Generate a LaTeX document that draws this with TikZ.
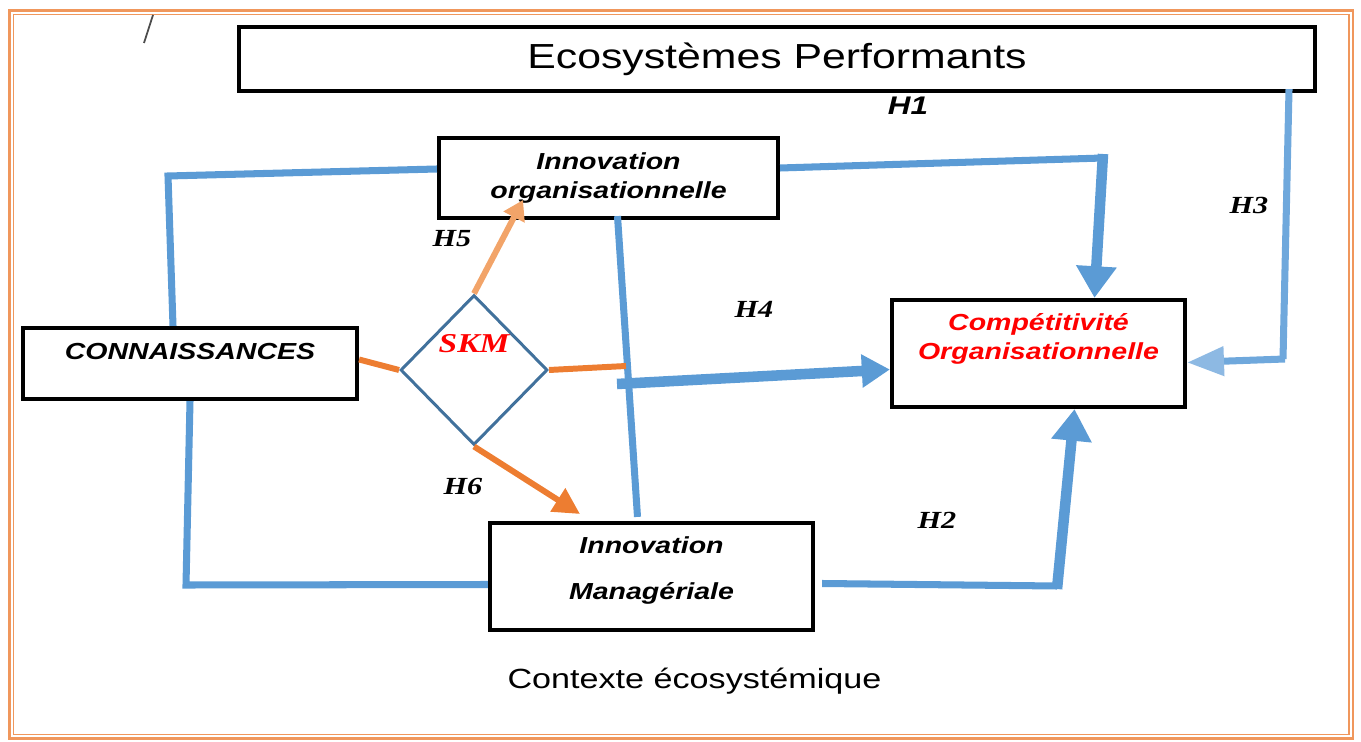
\documentclass[tikz,border=0pt]{standalone}
\usepackage{fontspec}
\setmainfont{Liberation Sans}[FakeStretch=1.23]
\newfontfamily\serifH{Liberation Serif}[FakeStretch=1.23]
\usetikzlibrary{arrows.meta,shapes.geometric,calc}

\definecolor{bleu}{HTML}{5B9BD5}
\definecolor{bleuclair}{HTML}{6FA8DC}
\definecolor{pointeclair}{HTML}{8DB9E3}
\definecolor{orangelien}{HTML}{ED7D31}
\definecolor{peche}{HTML}{F2A469}
\definecolor{cadre}{HTML}{F0975C}
\definecolor{bordskm}{HTML}{41719C}

\begin{document}
\begin{tikzpicture}[x=0.02cm, y=-0.02cm,
	boite/.style={draw=black, line width=2.4pt, inner sep=0pt},
	txt/.style={font=\fontsize{13.2}{16.4}\selectfont\bfseries\itshape, align=center},
	hyp/.style={font=\serifH\fontsize{14}{16}\selectfont\bfseries\itshape},
	lien/.style={draw=bleu, line width=4pt},
	fleche/.style={draw=bleu, line width=6pt},
	lienorange/.style={draw=orangelien, line width=3.4pt}]
	\useasboundingbox (0,0) rectangle (1361,742);

	% double cadre
	\draw[cadre, line width=1.6pt] (9.5,10.5) rectangle (1353,738.5);
	\draw[cadre, line width=0.8pt] (13.5,14.5) rectangle (1349,734.5);
	\draw[black!70, line width=1pt] (153,15) -- (144,43);

	% boites
	\node[boite, minimum width=21.52cm, minimum height=1.28cm, font=\fontsize{19.8}{24}\selectfont] (eco) at (777,59) {Ecosystèmes Performants};
	\node[boite, txt, minimum width=6.78cm, minimum height=1.6cm] (innov) at (608.5,178) {Innovation\\organisationnelle};
	\node[boite, minimum width=6.68cm, minimum height=1.42cm,
		label={[txt, yshift=0.23cm]center:CONNAISSANCES}] (conn) at (190,363.5) {};
	\node[boite, minimum width=5.86cm, minimum height=2.14cm,
		label={[txt, red, yshift=0.3cm]center:Compétitivité\\Organisationnelle}] (comp) at (1038.5,353.5) {};
	\node[boite, minimum width=6.46cm, minimum height=2.14cm,
		label={[txt, yshift=0.12cm]center:Innovation\\[10pt]Managériale}] (manag) at (651.5,576.5) {};
	\node[diamond, draw=bordskm, line width=1.7pt, minimum width=2.94cm, minimum height=3cm, inner sep=0pt,
		label={[font=\serifH\fontsize{15.5}{18}\selectfont\bfseries\itshape, red, yshift=0.52cm]center:SKM}] (skm) at (474,370) {};

	\node[font=\fontsize{15.8}{18}\selectfont] (ctx) at (694.5,681) {Contexte écosystémique};

	% hypotheses
	\node[font=\fontsize{14.5}{16}\selectfont\bfseries\itshape] (h1) at (908,106) {H1};
	\node[hyp] (h2) at (937,520) {H2};
	\node[hyp] (h3) at (1249,205) {H3};
	\node[hyp] (h4) at (754,309) {H4};
	\node[hyp] (h5) at (452,239) {H5};
	\node[hyp] (h6) at (463,486) {H6};

	% points de passage
	\coordinate (coinG) at (168,176);
	\coordinate (coinB) at (186,585);
	\coordinate (coinH1) at (1103,158);
	\coordinate (coinH2) at (1057,586);
	\coordinate (coinH3) at (1283,359);
	\coordinate (departH4) at (617,384);
	\coordinate (finSKM) at (626,366);
	\coordinate (finH5) at (523,200);
	\coordinate (finH6) at (580,514);

	% liens bleus
	\draw[lien] ($(conn.north)+(-17,0)$) -- (coinG) -- ($(innov.west)+(0,-9)$);
	\draw[lien] (conn.south) -- (coinB) -- ($(manag.west)+(0,8)$);
	\draw[lien] ($(innov.south)+(9,-4)$) -- ($(manag.north)+(-14,-4)$);
	\draw[lien] ($(innov.east)+(0,-10)$) -- (coinH1);
	\draw[fleche, -{Triangle[width=22pt,length=18pt]}] ($(coinH1)+(0,-4)$) -- ($(comp.north)+(56,0)$);
	\draw[fleche, -{Triangle[width=18pt,length=16pt]}] (departH4) -- ($(comp.west)+(0,16)$);
	\draw[lien] ($(manag.east)+(7,7)$) -- (coinH2);
	\draw[fleche, -{Triangle[width=22pt,length=18pt]}] ($(coinH2)+(0,3)$) -- ($(comp.south)+(36,0)$);
	\draw[lien, bleuclair] ($(eco.south east)+(-28,-4)$) -- (coinH3);
	\draw[lien, bleuclair, -{Triangle[width=16pt,length=21pt,color=pointeclair]}] ($(coinH3)+(2,0)$) -- ($(comp.east)+(0,9)$);

	% liens SKM
	\draw[lienorange] ($(conn.east)+(0,-4)$) -- (skm.west);
	\draw[lienorange] (skm.east) -- (finSKM);
	\draw[lienorange, peche, -{Triangle[width=13pt,length=11pt]}] (skm.north) -- (finH5);
	\draw[lienorange, -{Triangle[width=15pt,length=15pt]}] (skm.south) -- (finH6);
\end{tikzpicture}
\end{document}
